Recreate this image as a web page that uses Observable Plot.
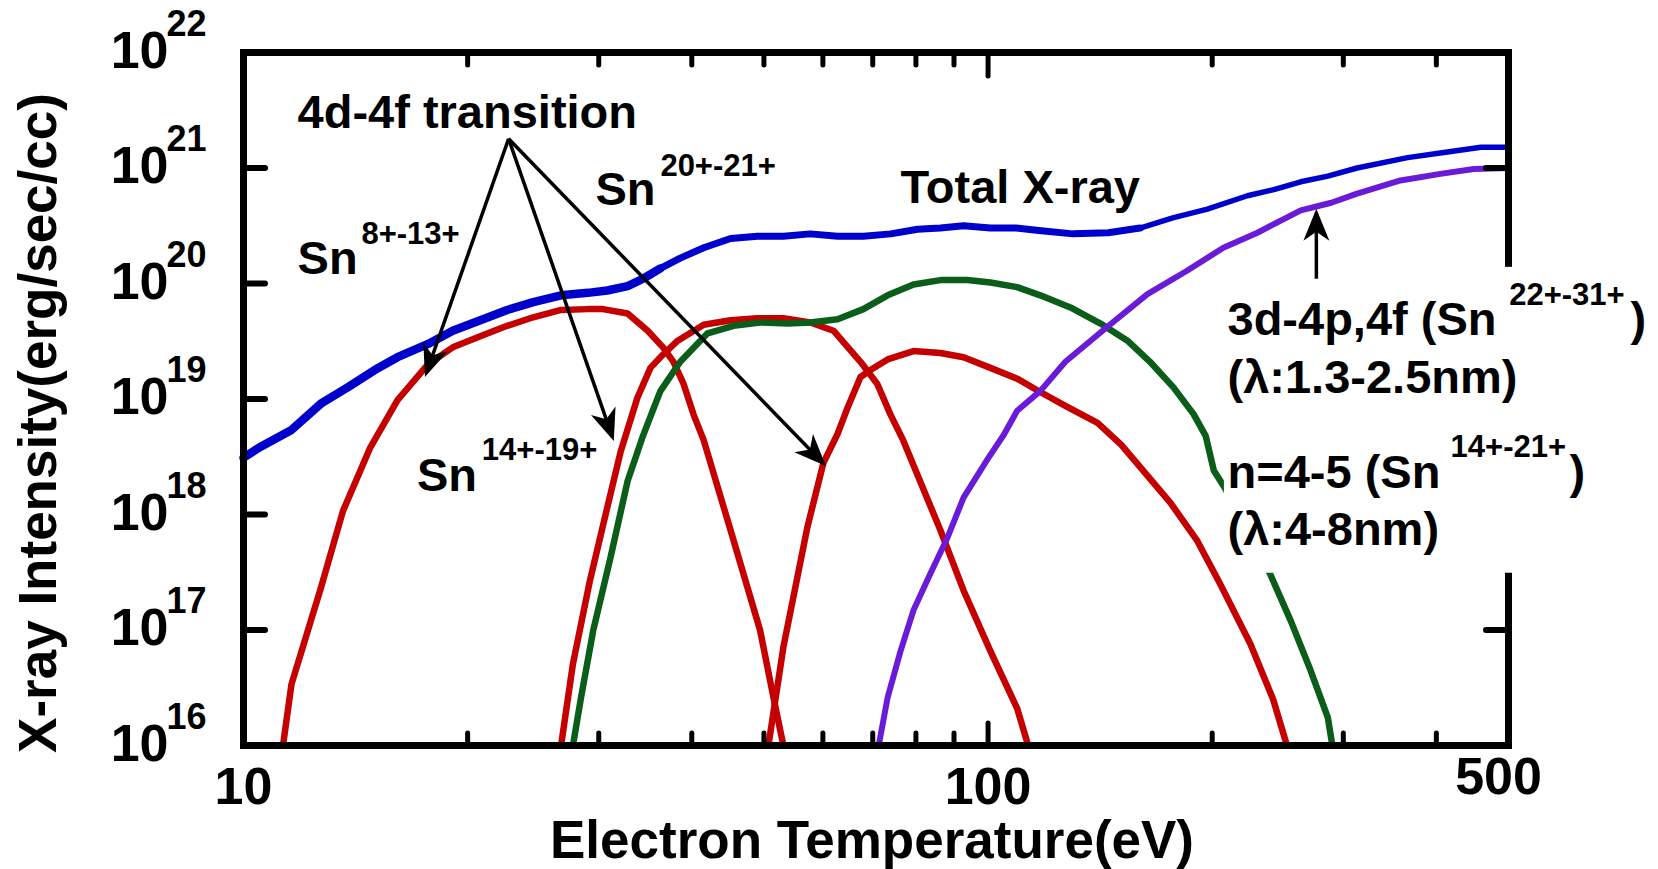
<!DOCTYPE html>
<html>
<head>
<meta charset="utf-8">
<script src="https://cdn.jsdelivr.net/npm/d3@7"></script>
<script src="https://cdn.jsdelivr.net/npm/@observablehq/plot@0.6"></script>
<style>
  html, body { margin: 0; padding: 0; background: #fff; }
  #chart { width: 1658px; height: 869px; }
</style>
</head>
<body>
<div id="chart"></div>
<script>
// ---------------- data (electron temperature in eV, intensity in erg/sec/cc) ----------------
const totalT = [10, 10.5, 11.6, 12.7, 13.8, 15.0, 16.1, 17.7, 19.1, 20.8, 22.6, 24.5, 26.7, 29.0, 30.8, 32.8, 34.4, 36.3, 38.6, 41.5, 45.1, 49.0, 53.1, 57.7, 62.8, 68.0, 74.0, 80.4, 86.3, 92.7, 100.7, 109, 117, 130, 145, 160, 177, 197, 223, 242, 263, 286, 313, 366, 405, 459, 500];
const totalI = [3.1e18, 3.8e18, 5.4e18, 9.1e18, 1.26e19, 1.78e19, 2.3e19, 3.0e19, 3.9e19, 4.8e19, 5.9e19, 6.9e19, 7.9e19, 8.3e19, 8.7e19, 9.5e19, 1.10e20, 1.35e20, 1.66e20, 2.04e20, 2.45e20, 2.57e20, 2.57e20, 2.69e20, 2.57e20, 2.57e20, 2.69e20, 2.95e20, 3.02e20, 3.16e20, 3.02e20, 3.02e20, 2.88e20, 2.69e20, 2.75e20, 3.02e20, 3.7e20, 4.4e20, 5.75e20, 6.5e20, 7.6e20, 8.5e20, 1.0e21, 1.23e21, 1.35e21, 1.51e21, 1.51e21];

const sn8T = [11.3, 11.6, 12.7, 13.6, 14.8, 16.1, 17.7, 19.1, 20.8, 22.6, 24.5, 26.7, 29.0, 30.4, 32.8, 34.9, 36.6, 37.8, 39.0, 40.2, 41.5, 45.1, 49.4, 51.5, 53.1];
const sn8I = [1e16, 3.4e16, 2.3e17, 1.07e18, 3.8e18, 9.8e18, 2.0e19, 2.8e19, 3.5e19, 4.3e19, 5.1e19, 5.9e19, 6.0e19, 6.0e19, 5.5e19, 3.9e19, 2.8e19, 2.1e19, 1.35e19, 7.4e18, 4.4e18, 7.3e17, 1.0e17, 2.6e16, 1e16];

const sn14T = [26.7, 27.7, 29.2, 30.8, 32.1, 33.8, 35.2, 36.3, 38.3, 41.5, 45.1, 49.0, 53.1, 57.7, 62.0, 67.4, 71.0, 73.9, 76.9, 80.4, 86.3, 92.7, 100.7, 109.4, 113.2];
const sn14I = [1e16, 5.1e16, 2.7e17, 1.15e18, 3.5e18, 1.02e19, 1.86e19, 2.3e19, 3.2e19, 4.4e19, 4.8e19, 5.0e19, 5.0e19, 4.6e19, 3.9e19, 2.1e19, 1.35e19, 7.4e18, 4.4e18, 2.2e18, 7.3e17, 2.2e17, 6.6e16, 2.1e16, 1e16];

const sn20T = [50.7, 53.1, 57.2, 60.1, 62.8, 64.8, 67.4, 69.5, 73.3, 79.4, 86.3, 92.7, 100.7, 109.4, 117.5, 127.9, 140.3, 151, 175.8, 191, 205, 225, 241.5, 252];
const sn20I = [1e16, 7.1e16, 7.8e17, 2.8e18, 5.0e18, 8.5e18, 1.55e19, 1.78e19, 2.2e19, 2.6e19, 2.5e19, 2.3e19, 1.86e19, 1.5e19, 1.15e19, 8.5e18, 6.2e18, 4.0e18, 1.26e18, 5.9e17, 2.5e17, 7.6e16, 2.5e16, 1e16];

const n45T = [27.7, 28.4, 29.5, 31.1, 32.8, 34.4, 35.6, 36.3, 38.6, 42.0, 45.5, 49.4, 53.8, 57.7, 62.8, 68.0, 73.3, 79.4, 86.3, 93.8, 100.7, 109.4, 117.5, 129, 141.6, 153.9, 165, 177.4, 188.8, 196, 201, 208, 239, 255, 271, 286, 290];
const n45I = [1e16, 2.6e16, 1.0e17, 4.2e17, 1.95e18, 4.8e18, 8.5e18, 1.17e19, 2.1e19, 3.7e19, 4.3e19, 4.6e19, 4.5e19, 4.6e19, 4.9e19, 6.0e19, 7.9e19, 9.8e19, 1.07e20, 1.07e20, 1.02e20, 9.3e19, 7.9e19, 6.2e19, 4.5e19, 3.2e19, 2.1e19, 1.26e19, 7.4e18, 4.8e18, 2.4e18, 1.7e18, 3.1e17, 1.2e17, 4.5e16, 1.74e16, 1e16];

const d3dT = [71.3, 73.3, 76.3, 79.4, 83.7, 88.2, 92.7, 99.8, 105, 109.4, 117.5, 127, 144.5, 163.7, 185, 207, 230, 263, 289, 313, 358, 405, 449, 500];
const d3dI = [1e16, 2.6e16, 6.6e16, 1.48e17, 3.1e17, 6.3e17, 1.4e18, 3.0e18, 4.9e18, 7.9e18, 1.17e19, 2.1e19, 4.2e19, 8.1e19, 1.29e20, 2.04e20, 2.75e20, 4.3e20, 5.0e20, 6.0e20, 7.8e20, 8.9e20, 9.8e20, 1.0e21];

// ---------------- ticks & labels ----------------
const yTickValues = [1e16, 1e17, 1e18, 1e19, 1e20, 1e21, 1e22];
const yTickExponents = ["16", "17", "18", "19", "20", "21", "22"];
const yInnerTicks = [1e17, 1e18, 1e19, 1e20, 1e21];
const xMinorTicks = [20, 30, 40, 50, 60, 70, 80, 90, 200, 300, 400];
const xMajorTicks = [100];
const xTickLabelValues = [10, 100];
const xTickLabelTexts = ["10", "100"];
const xEndLabelValue = [500];
const xEndLabelText = ["500"];

// ---------------- annotations ----------------
const arrowX1 = [22.7, 22.7, 22.7, 276];
const arrowY1 = [1.79e21, 1.79e21, 1.79e21, 1.1e20];
const arrowX2 = [17.6, 31.3, 60.05, 276];
const arrowY2 = [1.67e19, 4.67e18, 2.78e18, 4.1e20];

const mainLabels = ["4d-4f transition", "Sn", "Sn", "Total X-ray", "Sn", "3d-4p,4f (Sn", ")", "(λ:1.3-2.5nm)", "n=4-5 (Sn", ")", "(λ:4-8nm)"];
const mainLabelX = [11.82, 11.82, 29.7, 76.3, 17.1, 209.7, 729, 209.7, 209.7, 604, 209.7];
const mainLabelY = [2.24e21, 1.2e20, 4.83e20, 5.0e20, 1.6e18, 3.55e19, 3.55e19, 1.12e19, 1.71e18, 1.71e18, 5.4e17];
const supLabels = ["8+-13+", "20+-21+", "14+-19+", "22+-31+", "14+-21+"];
const supLabelX = [14.4, 36.3, 20.9, 501, 418];
const supLabelY = [2.18e20, 8.6e20, 2.94e18, 6.46e19, 3.12e18];

const maskBox = {x1: 207.7, x2: 820, y1: 3.1e17, y2: 1.38e20};

// ---------------- layout ----------------
const W = 1658, H = 869, ML = 243, MR = 150, MT = 52, MB = 124;
const innerW = W - ML - MR, innerH = H - MT - MB;
const FONT = "'Liberation Sans', Arial, Helvetica, sans-serif";

const toRows = (T, I) => T.map((t, i) => ({t, v: I[i]}));
const totalRows = toRows(totalT, totalI);
const series = [
  {rows: toRows(sn8T, sn8I), color: "#c40000", w: 6.5},
  {rows: toRows(sn14T, sn14I), color: "#c40000", w: 6.5},
  {rows: toRows(sn20T, sn20I), color: "#c40000", w: 6.5},
  {rows: toRows(n45T, n45I), color: "#0a5e1a", w: 6.5},
  {rows: toRows(d3dT, d3dI), color: "#6a1bd8", w: 6},
  // total X-ray: drawn heavier on the low-temperature side, as in the original
  {rows: totalRows.filter(d => d.t <= 36.3), color: "#0000cc", w: 8.5},
  {rows: totalRows.filter(d => d.t >= 36.3 && d.t <= 160), color: "#0000cc", w: 7},
  {rows: totalRows.filter(d => d.t >= 160), color: "#0000cc", w: 5.5}
];

const arrows = arrowX1.map((x, i) => ({x1: x, y1: arrowY1[i], x2: arrowX2[i], y2: arrowY2[i]}));
const mains = mainLabels.map((t, i) => ({t, x: mainLabelX[i], y: mainLabelY[i]}));
const sups = supLabels.map((t, i) => ({t, x: supLabelX[i], y: supLabelY[i]}));

function filledHead(color, context) {
  const ns = "http://www.w3.org/2000/svg";
  const doc = (context && context.document) || document;
  const m = doc.createElementNS(ns, "marker");
  m.setAttribute("viewBox", "-30 -15 36 30");
  m.setAttribute("markerWidth", 36);
  m.setAttribute("markerHeight", 30);
  m.setAttribute("refX", 0);
  m.setAttribute("refY", 0);
  m.setAttribute("orient", "auto");
  m.setAttribute("markerUnits", "userSpaceOnUse");
  const p = doc.createElementNS(ns, "path");
  p.setAttribute("d", "M4,0L-28,-13L-19,0L-28,13Z");
  p.setAttribute("fill", color);
  p.setAttribute("stroke", "none");
  m.appendChild(p);
  return m;
}

let arrowMark;
try {
  arrowMark = Plot.link(arrows, {x1: "x1", y1: "y1", x2: "x2", y2: "y2", stroke: "black", strokeWidth: 3.5, markerEnd: filledHead});
} catch (e) {
  arrowMark = Plot.arrow(arrows, {x1: "x1", y1: "y1", x2: "x2", y2: "y2", stroke: "black", strokeWidth: 3.5, headLength: 30, headAngle: 45});
}

const chart = Plot.plot({
  width: W, height: H,
  marginLeft: ML, marginRight: MR, marginTop: MT, marginBottom: MB,
  style: {fontFamily: FONT, fontWeight: "bold", background: "white", color: "black"},
  x: {type: "log", domain: [10, 500], axis: null},
  y: {type: "log", domain: [1e16, 1e22], axis: null},
  marks: [
    ...series.map(s => Plot.line(s.rows, {x: "t", y: "v", stroke: s.color, strokeWidth: s.w, strokeLinejoin: "round", strokeLinecap: "round"})),
    Plot.frame({stroke: "black", strokeWidth: 7}),
    Plot.tickY(yInnerTicks, {y: d => d, insetRight: innerW - 22, stroke: "black", strokeWidth: 6, strokeLinecap: "round"}),
    Plot.tickY(yInnerTicks, {y: d => d, insetLeft: innerW - 22, stroke: "black", strokeWidth: 6, strokeLinecap: "round"}),
    Plot.tickX(xMinorTicks, {x: d => d, insetTop: innerH - 12, stroke: "black", strokeWidth: 5, strokeLinecap: "round"}),
    Plot.tickX(xMajorTicks, {x: d => d, insetTop: innerH - 22, stroke: "black", strokeWidth: 5, strokeLinecap: "round"}),
    Plot.tickX(xMinorTicks, {x: d => d, insetBottom: innerH - 13, stroke: "black", strokeWidth: 5, strokeLinecap: "round"}),
    Plot.tickX(xMajorTicks, {x: d => d, insetBottom: innerH - 24, stroke: "black", strokeWidth: 5, strokeLinecap: "round"}),
    Plot.rect([maskBox], {x1: "x1", x2: "x2", y1: "y1", y2: "y2", fill: "white"}),
    arrowMark,
    // y tick labels
    Plot.text(yTickValues, {y: d => d, text: () => "10", frameAnchor: "left", textAnchor: "end", lineAnchor: "bottom", dx: -75, dy: 15, fontSize: 52}),
    Plot.text(yTickValues, {y: d => d, text: (d, i) => yTickExponents[i], frameAnchor: "left", textAnchor: "start", lineAnchor: "bottom", dx: -77, dy: -17, fontSize: 36}),
    // x tick labels
    Plot.text(xTickLabelValues, {x: d => d, text: (d, i) => xTickLabelTexts[i], frameAnchor: "bottom", lineAnchor: "bottom", dy: 58, fontSize: 52}),
    Plot.text(xEndLabelValue, {x: d => d, text: (d, i) => xEndLabelText[i], frameAnchor: "bottom", lineAnchor: "bottom", dx: -10, dy: 48, fontSize: 52}),
    // axis titles
    Plot.text(["Electron Temperature(eV)"], {frameAnchor: "bottom", textAnchor: "middle", lineAnchor: "bottom", dx: -4, dy: 112, fontSize: 53}),
    Plot.text(["X-ray Intensity(erg/sec/cc)"], {frameAnchor: "left", textAnchor: "middle", rotate: -90, lineAnchor: "bottom", dx: -188, dy: 24, fontSize: 53}),
    // annotations
    Plot.text(mains, {x: "x", y: "y", text: "t", textAnchor: "start", lineAnchor: "bottom", fontSize: 47}),
    Plot.text(sups, {x: "x", y: "y", text: "t", textAnchor: "start", lineAnchor: "bottom", fontSize: 31})
  ]
});

document.getElementById("chart").appendChild(chart);
</script>
</body>
</html>
